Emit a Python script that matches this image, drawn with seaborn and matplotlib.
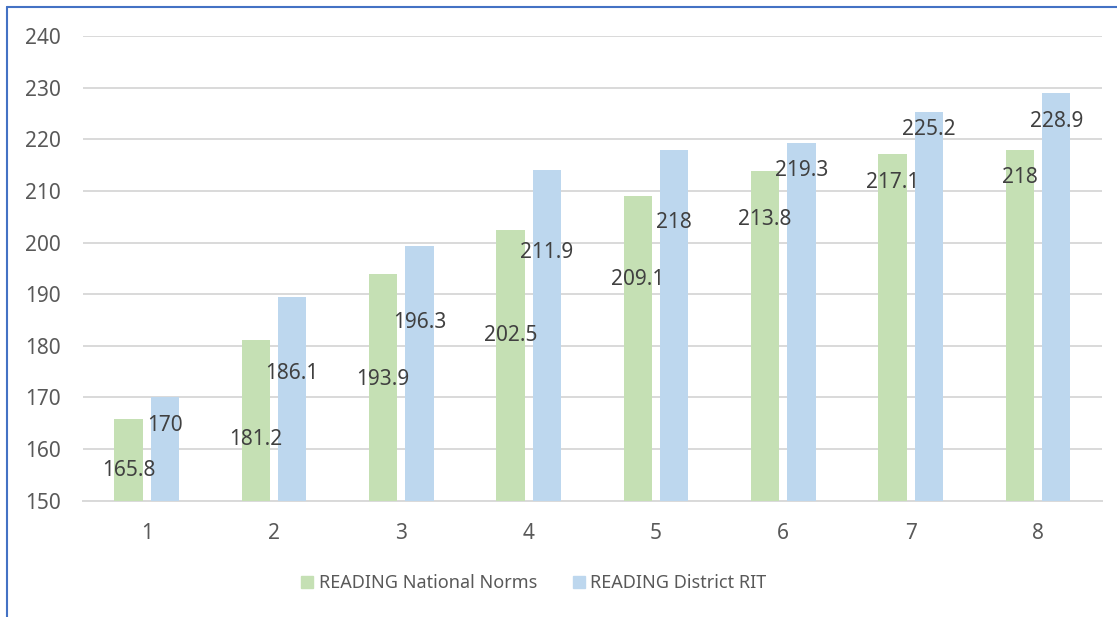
import matplotlib
matplotlib.use("Agg")
import matplotlib.pyplot as plt
import matplotlib.patches as mpatches
import pandas as pd
import seaborn as sns

# ── Data ───────────────────────────────────────────────────────────────────────
grades = ["1", "2", "3", "4", "5", "6", "7", "8"]
national_norms = [165.8, 181.2, 193.9, 202.5, 209.1, 213.8, 217.1, 218.0]
district_rit = [170.0, 189.5, 199.3, 214.1, 218.0, 219.3, 225.2, 228.9]
national_labels = ["165.8", "181.2", "193.9", "202.5", "209.1", "213.8", "217.1", "218"]
district_labels = ["170", "186.1", "196.3", "211.9", "218", "219.3", "225.2", "228.9"]
series_names = ["READING National Norms", "READING District RIT"]

# label placement (data units), as laid out by hand in the original chart
national_label_y = [155.8, 161.8, 173.5, 181.9, 192.9, 204.5, 211.6, 212.5]
district_label_y = [164.5, 174.6, 184.5, 198.1, 203.8, 214.0, 221.8, 223.4]

GREEN = "#C5E0B4"
BLUE = "#BDD7EE"
GRID = "#D9D9D9"
TICK = "#595959"
LABEL = "#404040"

df = pd.DataFrame({
    "grade": grades * 2,
    "score": national_norms + district_rit,
    "series": [series_names[0]] * len(grades) + [series_names[1]] * len(grades),
})

sns.set_theme(style="white")
plt.rcParams["font.family"] = ["Noto Sans", "DejaVu Sans"]

fig = plt.figure(figsize=(11.17, 6.17), dpi=100)
ax = fig.add_axes([83 / 1117, 1 - 500.7 / 617, (1101.7 - 83) / 1117, (500.7 - 36) / 617])

sns.barplot(data=df, x="grade", y="score", hue="series", order=grades,
            hue_order=series_names, palette=[GREEN, BLUE], width=0.571, gap=0.22,
            saturation=1, linewidth=0, ax=ax, legend=False)

ax.set_ylim(150, 240)
ax.set_yticks(range(150, 241, 10))
ax.set_xlim(-0.5, len(grades) - 0.5)
ax.set_xlabel("")
ax.set_ylabel("")
ax.yaxis.grid(True, color=GRID, linewidth=1.4)
ax.set_axisbelow(True)
for side in ["top", "right", "left"]:
    ax.spines[side].set_visible(False)
ax.spines["bottom"].set_color(GRID)
ax.spines["bottom"].set_linewidth(1.4)
ax.spines["bottom"].set_zorder(0.5)
ax.tick_params(axis="y", length=0, pad=16, labelsize=15, labelcolor=TICK)
ax.tick_params(axis="x", length=0, pad=16, labelsize=15, labelcolor=TICK)

# data labels
for container, labels, ys in zip(ax.containers,
                                 [national_labels, district_labels],
                                 [national_label_y, district_label_y]):
    for bar, txt, y in zip(container, labels, ys):
        ax.text(bar.get_x() + bar.get_width() / 2, y, txt,
                ha="center", va="center", fontsize=15, color=LABEL)

# legend
handles = [mpatches.Patch(color=GREEN, label=series_names[0]),
           mpatches.Patch(color=BLUE, label=series_names[1])]
fig.legend(handles=handles, loc="center", bbox_to_anchor=(534 / 1117, 1 - 583 / 617),
           ncol=2, frameon=False, fontsize=13, labelcolor=TICK,
           handlelength=0.65, handleheight=0.65, handletextpad=0.3,
           columnspacing=2.0)

# chart frame (left and top edge visible)
fig.add_artist(plt.Line2D([7 / 1117, 7 / 1117], [0, 1 - 7 / 617],
                          color="#4472C4", linewidth=1.5, transform=fig.transFigure))
fig.add_artist(plt.Line2D([7 / 1117, 1], [1 - 7 / 617, 1 - 7 / 617],
                          color="#4472C4", linewidth=1.5, transform=fig.transFigure))

fig.savefig("out.png", dpi=100)
